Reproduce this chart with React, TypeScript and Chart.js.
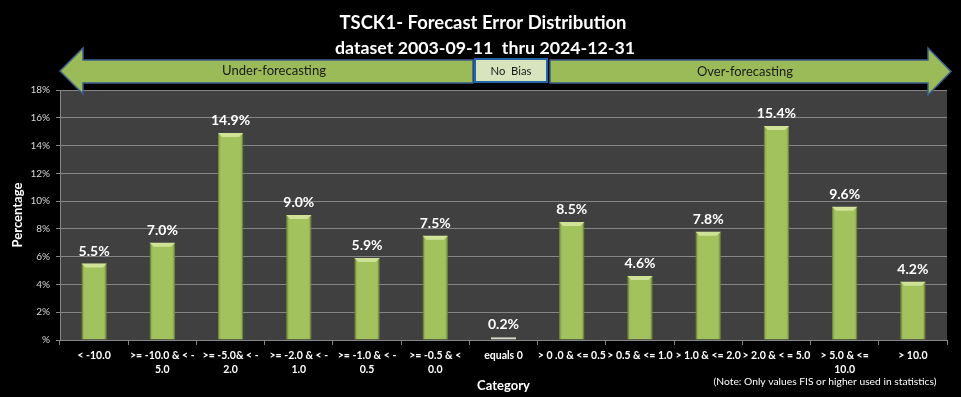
import React, { useEffect, useRef } from 'react';
import { Chart, registerables } from 'chart.js';

Chart.register(...registerables);

// ---- Data ----
const categories: (string | string[])[] = [
  '< -10.0',
  ['>= -10.0 & < -', '5.0'],
  ['>= -5.0& < -', '2.0'],
  ['>= -2.0 & < -', '1.0'],
  ['>= -1.0 & < -', '0.5'],
  ['>= -0.5 & <', '0.0'],
  'equals 0',
  '> 0 .0 & <= 0.5',
  '> 0.5 & <= 1.0',
  '> 1.0 & <= 2.0',
  '> 2.0 & < = 5.0',
  ['> 5.0 & <=', '10.0'],
  '> 10.0',
];
const percentages: number[] = [5.5, 7.0, 14.9, 9.0, 5.9, 7.5, 0.2, 8.5, 4.6, 7.8, 15.4, 9.6, 4.2];
const yMax = 18;
const yStep = 2;
const titleLines = ['TSCK1- Forecast Error Distribution', 'dataset 2003-09-11  thru 2024-12-31'];
const leftBand = 'Under-forecasting';
const middleBand = 'No  Bias';
const rightBand = 'Over-forecasting';
const noteText = '(Note: Only values FIS or higher used in statistics)';
const yTitle = 'Percentage';
const xTitle = 'Category';

const FONT = 'Lato, "Open Sans", "DejaVu Sans", sans-serif';

function fitFont(ctx: CanvasRenderingContext2D, text: string, weight: string, target: number, base: number) {
  ctx.font = `${weight} ${base}px ${FONT}`;
  const w = ctx.measureText(text).width;
  const size = w > 0 ? (base * target) / w : base;
  return `${weight} ${size.toFixed(2)}px ${FONT}`;
}

const decorPlugin = {
  id: 'decor',
  beforeDraw(chart: any) {
    const { ctx, chartArea } = chart;
    ctx.save();
    ctx.fillStyle = '#000000';
    ctx.fillRect(0, 0, chart.width, chart.height);
    ctx.fillStyle = '#404040';
    ctx.fillRect(chartArea.left, chartArea.top, chartArea.right - chartArea.left, chartArea.bottom - chartArea.top);
    ctx.restore();
  },
  afterDatasetsDraw(chart: any) {
    const { ctx } = chart;
    const meta = chart.getDatasetMeta(0);
    ctx.save();
    meta.data.forEach((el: any, i: number) => {
      const { x, y, base, width } = el.getProps(['x', 'y', 'base', 'width'], true);
      const l = x - width / 2;
      const r = x + width / 2;
      const h = base - y;
      if (h > 8) {
        const g = ctx.createLinearGradient(l, 0, r, 0);
        g.addColorStop(0, 'rgba(90,110,40,0.45)');
        g.addColorStop(0.12, 'rgba(90,110,40,0.0)');
        g.addColorStop(0.88, 'rgba(90,110,40,0.0)');
        g.addColorStop(1, 'rgba(90,110,40,0.45)');
        ctx.fillStyle = g;
        ctx.fillRect(l, y, width, h);
        ctx.fillStyle = '#cfe296';
        ctx.beginPath();
        ctx.moveTo(l, y);
        ctx.lineTo(r, y);
        ctx.lineTo(r - 4, y + 4);
        ctx.lineTo(l + 4, y + 4);
        ctx.closePath();
        ctx.fill();
      }
      ctx.fillStyle = '#ffffff';
      ctx.font = `bold 14px ${FONT}`;
      ctx.textAlign = 'center';
      ctx.textBaseline = 'alphabetic';
      ctx.fillText(percentages[i].toFixed(1) + '%', x, y - 8);
    });
    ctx.restore();
  },
  afterDraw(chart: any) {
    const { ctx } = chart;
    ctx.save();
    ctx.fillStyle = '#ffffff';
    ctx.textAlign = 'center';
    ctx.textBaseline = 'middle';
    ctx.font = fitFont(ctx, titleLines[0], 'bold', 287, 20);
    ctx.fillText(titleLines[0], 483, 23);
    ctx.font = fitFont(ctx, titleLines[1], 'bold', 300, 20);
    ctx.fillText(titleLines[1], 485, 48);

    ctx.fillStyle = '#9bbb59';
    ctx.strokeStyle = '#3b5e8c';
    ctx.lineWidth = 1.5;
    ctx.lineJoin = 'miter';
    ctx.beginPath();
    ctx.moveTo(60, 71);
    ctx.lineTo(83, 48);
    ctx.lineTo(83, 60);
    ctx.lineTo(473, 60);
    ctx.lineTo(473, 83);
    ctx.lineTo(83, 83);
    ctx.lineTo(83, 94);
    ctx.closePath();
    ctx.fill();
    ctx.stroke();

    ctx.beginPath();
    ctx.moveTo(550, 60);
    ctx.lineTo(928, 60);
    ctx.lineTo(928, 48);
    ctx.lineTo(951, 71.5);
    ctx.lineTo(928, 95);
    ctx.lineTo(928, 83);
    ctx.lineTo(550, 83);
    ctx.closePath();
    ctx.fill();
    ctx.stroke();

    ctx.fillStyle = '#d7e4bd';
    ctx.fillRect(475, 59, 72, 23);
    ctx.strokeStyle = '#2266aa';
    ctx.lineWidth = 2;
    ctx.strokeRect(475, 59, 72, 23);

    ctx.fillStyle = '#1a1a1a';
    ctx.font = fitFont(ctx, leftBand, 'normal', 104, 14);
    ctx.fillText(leftBand, 274, 71);
    ctx.font = fitFont(ctx, rightBand, 'normal', 96, 14);
    ctx.fillText(rightBand, 745, 72);
    ctx.font = fitFont(ctx, middleBand, 'normal', 41, 12);
    ctx.fillText(middleBand, 511, 71);

    ctx.fillStyle = '#ffffff';
    ctx.font = fitFont(ctx, noteText, 'normal', 223, 11);
    ctx.fillText(noteText, 825, 382);
    ctx.restore();
  },
};

export default function App() {
  const ref = useRef<HTMLCanvasElement | null>(null);

  useEffect(() => {
    document.body.style.margin = '0';
    document.body.style.background = '#000';
    if (!ref.current) return;
    const chart = new Chart(ref.current, {
      type: 'bar',
      data: {
        labels: categories,
        datasets: [
          {
            data: percentages,
            backgroundColor: percentages.map((_, i) => (categories[i] === 'equals 0' ? '#f4f7ea' : '#a2c25e')),
            borderColor: percentages.map((_, i) => (categories[i] === 'equals 0' ? '#e4ebd2' : '#7d9a45')),
            borderWidth: 1,
            categoryPercentage: 1,
            barPercentage: 0.37,
          },
        ],
      },
      options: {
        responsive: false,
        animation: false,
        devicePixelRatio: 1,
        layout: { padding: { top: 90, right: 14, left: 0, bottom: 0 } },
        plugins: {
          legend: { display: false },
          title: { display: false },
          tooltip: { enabled: false },
        },
        scales: {
          x: {
            afterFit: (s: any) => {
              s.height = 57;
            },
            grid: {
              display: true,
              drawOnChartArea: false,
              drawTicks: true,
              tickLength: 5,
              color: '#868686',
              offset: true,
            },
            border: { display: true, color: '#868686' },
            ticks: {
              color: '#ffffff',
              font: { family: FONT, size: 10.5, weight: 'bold', lineHeight: 1.3 },
              padding: 4,
              maxRotation: 0,
              minRotation: 0,
              autoSkip: false,
            },
            title: {
              display: true,
              text: xTitle,
              color: '#ffffff',
              font: { family: FONT, size: 13, weight: 'bold' },
              padding: { top: 0, bottom: 3 },
            },
          },
          y: {
            min: 0,
            max: yMax,
            afterFit: (s: any) => {
              s.width = 60;
            },
            grid: {
              color: '#868686',
              tickLength: 4,
              drawTicks: true,
            },
            border: { display: true, color: '#868686' },
            ticks: {
              stepSize: yStep,
              color: '#d9d9d9',
              font: { family: FONT, size: 10 },
              padding: 6,
              callback: (v: any) => (Number(v) === 0 ? '%' : `${v}%`),
            },
            title: {
              display: true,
              text: yTitle,
              color: '#ffffff',
              font: { family: FONT, size: 13, weight: 'bold' },
              padding: { top: 10, bottom: 0 },
            },
          },
        },
      },
      plugins: [decorPlugin],
    } as any);
    return () => chart.destroy();
  }, []);

  return (
    <div style={{ position: 'fixed', left: 0, top: 0, width: 961, height: 397, background: '#000' }}>
      <canvas ref={ref} width={961} height={397} style={{ display: 'block', width: 961, height: 397 }} />
    </div>
  );
}
